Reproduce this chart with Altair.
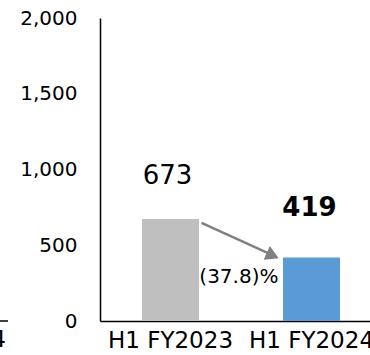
import altair as alt
import pandas as pd

categories = ["H1 FY2023", "H1 FY2024"]
values = [673, 419]
bar_colors = ["#BFBFBF", "#5B9BD5"]
value_labels = ["673", "419"]
y_ticks = [0, 500, 1000, 1500, 2000]

# arrow between the bars (x in band units: 0..2, y in data units)
arrow_x = [0.72, 1.20]
arrow_y = [648, 445]
head_x = [1.225]
head_y = [432]
change_label = ["(37.8)%"]
change_x = [0.985]
change_y = [250]

FONT = "DejaVu Sans"
RANGE = [0, 282]

df = pd.DataFrame({"cat": categories, "val": values, "lab": value_labels})

x_band = alt.X("cat:N", sort=categories, title=None,
               scale=alt.Scale(range=RANGE, paddingInner=0.596, paddingOuter=0.298),
               axis=alt.Axis(labelAngle=0, ticks=False, domainColor="#000000", domainWidth=1.5,
                             labelFont=FONT, labelFontSize=23, labelColor="#000000",
                             labelPadding=8, labelOverlap=False, labelBound=False))
y_scale = alt.Scale(domain=[0, 2000], nice=False)
y_axis = alt.Axis(values=y_ticks, labelExpr="format(datum.value, ',')", ticks=False,
                  grid=False, domainColor="#000000", domainWidth=1.5, labelFont=FONT,
                  labelFontSize=20, labelColor="#000000", labelPadding=23, title=None)


def Y(field):
    return alt.Y(field, scale=y_scale, axis=y_axis, title=None)


bars = alt.Chart(df).mark_bar().encode(
    x=x_band,
    y=Y("val:Q"),
    color=alt.Color("cat:N", scale=alt.Scale(domain=categories, range=bar_colors), legend=None),
)

lab1 = alt.Chart(df).transform_filter(alt.datum.cat == categories[0]).mark_text(
    font=FONT, fontSize=26, dy=-35, baseline="alphabetic", color="#000000", dx=-3
).encode(x=alt.X("cat:N", sort=categories), y=Y("val:Q"), text="lab:N")

lab2 = alt.Chart(df).transform_filter(alt.datum.cat == categories[1]).mark_text(
    font=FONT, fontSize=26, fontWeight="bold", dy=-42, baseline="alphabetic", color="#000000", dx=-2
).encode(x=alt.X("cat:N", sort=categories), y=Y("val:Q"), text="lab:N")

band_layer = alt.layer(bars, lab1, lab2)

xq = alt.Scale(domain=[0, 2], range=RANGE)

arrow_df = pd.DataFrame({"x": [arrow_x[0]], "x2": [arrow_x[1]], "y": [arrow_y[0]], "y2": [arrow_y[1]]})
arrow = alt.Chart(arrow_df).mark_rule(color="#808080", strokeWidth=2.5).encode(
    x=alt.X("x:Q", scale=xq, axis=None), x2="x2:Q",
    y=Y("y:Q"), y2="y2:Q")

head = alt.Chart(pd.DataFrame({"x": head_x, "y": head_y})).mark_point(
    shape="triangle-right", filled=True, color="#808080", size=230, angle=24, opacity=1
).encode(x=alt.X("x:Q", scale=xq, axis=None), y=Y("y:Q"))

change = alt.Chart(pd.DataFrame({"x": change_x, "y": change_y, "t": change_label})).mark_text(
    font=FONT, fontSize=20, baseline="alphabetic", color="#000000"
).encode(x=alt.X("x:Q", scale=xq, axis=None), y=Y("y:Q"), text="t:N")

# fragment of the neighbouring chart, cropped at the left edge
frag_rule = alt.Chart(pd.DataFrame({"a": [0]})).mark_rule(color="#000000", strokeWidth=1.5).encode(
    x=alt.value(-100), x2=alt.value(-92), y=alt.value(303))
frag_text = alt.Chart(pd.DataFrame({"t": ["H1 FY2024"]})).mark_text(
    font=FONT, fontSize=23, align="right", baseline="top", color="#000000"
).encode(x=alt.value(-94), y=alt.value(311), text="t:N")

arrow_layer = alt.layer(arrow, head, change, frag_rule, frag_text)

chart = alt.layer(band_layer, arrow_layer).resolve_scale(x="independent").properties(
    width=270, height=303,
    autosize=alt.AutoSizeParams(type="none"),
    padding={"left": 100, "top": 18, "right": 0, "bottom": 34},
).configure_view(stroke=None).configure_axis(grid=False)

chart.save("out.html", embed_options={"renderer": "svg", "actions": False})
